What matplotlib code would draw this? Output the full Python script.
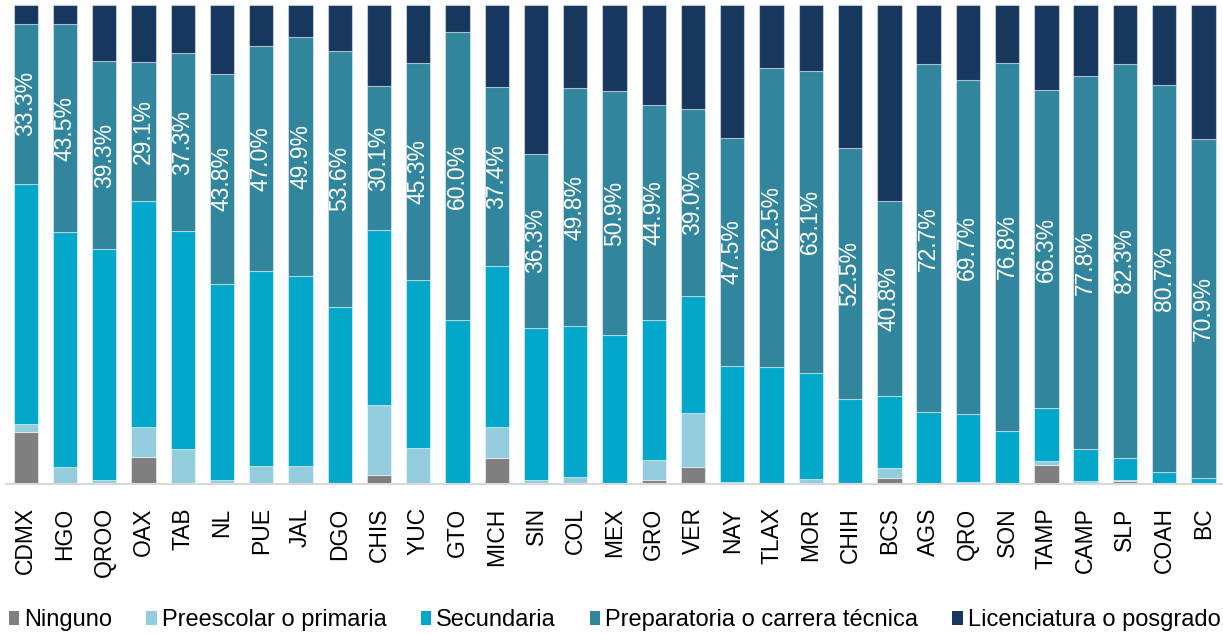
import numpy as np
import matplotlib.pyplot as plt

plt.rcParams['font.family'] = ['Liberation Sans', 'DejaVu Sans']

estados = ['CDMX', 'HGO', 'QROO', 'OAX', 'TAB', 'NL', 'PUE', 'JAL', 'DGO', 'CHIS',
           'YUC', 'GTO', 'MICH', 'SIN', 'COL', 'MEX', 'GRO', 'VER', 'NAY', 'TLAX',
           'MOR', 'CHIH', 'BCS', 'AGS', 'QRO', 'SON', 'TAMP', 'CAMP', 'SLP', 'COAH', 'BC']

ninguno = [10.9, 0.0, 0.0, 5.5, 0.0, 0.2, 0.0, 0.1, 0.0, 1.9,
           0.0, 0.0, 5.4, 0.0, 0.0, 0.0, 0.7, 3.4, 0.0, 0.0,
           0.0, 0.0, 1.2, 0.0, 0.0, 0.0, 4.0, 0.0, 0.6, 0.0, 0.0]
primaria = [1.6, 3.6, 0.8, 6.3, 7.3, 0.6, 3.7, 3.7, 0.2, 14.5,
            7.4, 0.0, 6.4, 0.8, 1.5, 0.2, 4.3, 11.3, 0.4, 0.0,
            0.9, 0.2, 2.1, 0.0, 0.4, 0.0, 0.8, 0.6, 0.1, 0.2, 0.0]
secundaria = [50.2, 48.9, 48.2, 47.2, 45.4, 41.0, 40.7, 39.6, 36.7, 36.6,
              35.2, 34.3, 33.7, 31.8, 31.4, 30.9, 29.2, 24.6, 24.3, 24.3,
              22.3, 17.4, 15.0, 14.9, 14.2, 11.1, 11.1, 6.7, 4.7, 2.3, 1.1]
preparatoria = [33.3, 43.5, 39.3, 29.1, 37.3, 43.8, 47.0, 49.9, 53.6, 30.1,
                45.3, 60.0, 37.4, 36.3, 49.8, 50.9, 44.9, 39.0, 47.5, 62.5,
                63.1, 52.5, 40.8, 72.7, 69.7, 76.8, 66.3, 77.8, 82.3, 80.7, 70.9]
licenciatura = [4.0, 4.0, 11.7, 11.9, 10.0, 14.4, 8.6, 6.7, 9.5, 16.9,
                12.1, 5.7, 17.1, 31.1, 17.3, 18.0, 20.9, 21.7, 27.8, 13.2,
                13.7, 29.9, 40.9, 12.4, 15.7, 12.1, 17.8, 14.9, 12.3, 16.8, 28.0]

series = [('Ninguno', ninguno, '#7f7f7f'),
          ('Preescolar o primaria', primaria, '#93cddd'),
          ('Secundaria', secundaria, '#02a7c9'),
          ('Preparatoria o carrera técnica', preparatoria, '#31859c'),
          ('Licenciatura o posgrado', licenciatura, '#17375e')]

fig = plt.figure(figsize=(12.23, 6.34), dpi=100)
ax = fig.add_axes([0.005, 0.237, 0.995, 0.755])

x = np.arange(len(estados))
bottom = np.zeros(len(estados))
for name, vals, color in series:
    vals = np.array(vals)
    ax.bar(x, vals, width=0.62, bottom=bottom, color=color, label=name,
           edgecolor=(1, 1, 1, 0.45), linewidth=0.8)
    if name.startswith('Preparatoria'):
        for xi, b, v in zip(x, bottom, vals):
            ax.text(xi, b + v / 2, f'{v:.1f}%', rotation=90, color='white',
                    ha='center', va='center', fontsize=16.5)
    bottom += vals

ax.set_xlim(-0.5, 30.5)
ax.set_ylim(0, 100)
ax.set_yticks([])
ax.set_xticks(x)
ax.set_xticklabels(estados, rotation=90, fontsize=16.5, va='top')
ax.tick_params(axis='x', length=0, pad=17)
for s in ['top', 'left', 'right']:
    ax.spines[s].set_visible(False)
ax.spines['bottom'].set_color('#d9d9d9')
ax.spines['bottom'].set_linewidth(1.5)

leg = fig.legend(loc='center', bbox_to_anchor=(0.5025, 0.022), ncol=5, frameon=False,
                 fontsize=17, handlelength=0.45, handleheight=0.55,
                 handletextpad=0.2, columnspacing=1.45, borderaxespad=0)
for h in leg.legend_handles:
    h.set_edgecolor('none')

fig.savefig('out.png', dpi=100)
